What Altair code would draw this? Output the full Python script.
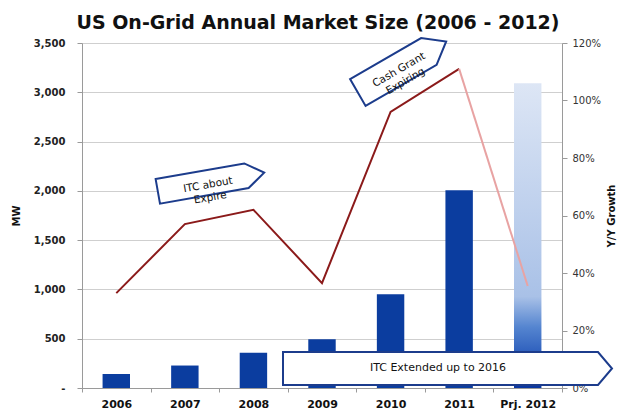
import altair as alt
import pandas as pd

# ---- data ----
years = ["2006", "2007", "2008", "2009", "2010", "2011", "Prj. 2012"]
mw = [142, 228, 358, 495, 952, 2005, 3092]
growth = [0.33, 0.57, 0.62, 0.365, 0.96, 1.11, 0.355]

title_text = "US On-Grid Annual Market Size (2006 - 2012)"
note_itc = "ITC about\nExpire"
note_cash = "Cash Grant\nExpiring"
note_ext = "ITC Extended up to 2016"

FONT = "DejaVu Sans"

bars_df = pd.DataFrame({"year": years[:-1], "mw": mw[:-1]})
proj_df = pd.DataFrame({"year": years[-1:], "mw": mw[-1:]})

line_rows = []
for i in range(6):
    line_rows.append({"year": years[i], "growth": growth[i], "seg": "actual", "idx": i})
for i in range(5, 7):
    line_rows.append({"year": years[i], "growth": growth[i], "seg": "proj", "idx": i})
line_df = pd.DataFrame(line_rows)

one = pd.DataFrame({"k": [0]})

X = alt.X(
    "year:N",
    scale=alt.Scale(domain=years, paddingInner=0, paddingOuter=0),
    axis=alt.Axis(
        title=None, tickBand="extent", labelAngle=0, labelFont=FONT,
        labelFontWeight="bold", labelFontSize=11, labelColor="#111",
        labelPadding=6, tickSize=4, domainColor="#9a9a9a", tickColor="#9a9a9a",
    ),
)

YL = alt.Y(
    "mw:Q", scale=alt.Scale(domain=[0, 3500]),
    axis=alt.Axis(
        orient="left", values=list(range(0, 3501, 500)),
        labelExpr="datum.value == 0 ? '-' : format(datum.value, ',')",
        title="MW", titleFont=FONT, titleFontSize=10, titleFontWeight="bold",
        titleColor="#111", titlePadding=12,
        labelFont=FONT, labelFontSize=10, labelFontWeight="bold", labelColor="#222",
        labelPadding=12, tickSize=5, tickColor="#9a9a9a", domainColor="#9a9a9a",
        gridColor="#cfcfcf", grid=True,
    ),
)

bars = alt.Chart(bars_df).mark_bar(
    color="#0b3d9f", width=alt.RelativeBandSize(0.4)
).encode(x=X, y=YL)

grad = alt.Gradient(
    gradient="linear",
    stops=[
        alt.GradientStop(offset=0, color="#0a36a0"),
        alt.GradientStop(offset=0.08, color="#1d4fb5"),
        alt.GradientStop(offset=0.2, color="#5585d0"),
        alt.GradientStop(offset=0.3, color="#a9c1e7"),
        alt.GradientStop(offset=1, color="#dde6f5"),
    ],
    x1=0, x2=0, y1=1, y2=0,
)

proj_bar = alt.Chart(proj_df).mark_bar(
    color=grad, width=alt.RelativeBandSize(0.4)
).encode(x=X, y=YL)

bar_layer = alt.layer(bars, proj_bar)

line = alt.Chart(line_df).mark_line(strokeWidth=2).encode(
    x=X,
    y=alt.Y(
        "growth:Q", scale=alt.Scale(domain=[0, 1.2]),
        axis=alt.Axis(
            orient="right", format="%", values=[0, 0.2, 0.4, 0.6, 0.8, 1.0, 1.2],
            grid=False, title="Y/Y Growth", titleAngle=270, titleFont=FONT,
            titleFontSize=10, titleFontWeight="bold", titleColor="#111", titlePadding=16,
            labelFont=FONT, labelFontSize=10, labelColor="#333", labelPadding=5,
            tickSize=5, tickColor="#9a9a9a", domainColor="#9a9a9a",
        ),
    ),
    color=alt.Color("seg:N", scale=alt.Scale(domain=["actual", "proj"], range=["#8b1a1a", "#e8a3a3"]), legend=None),
    detail="seg:N",
    order="idx:Q",
)


def arrow_path(body, tip, h):
    x0 = -(body + tip) / 2
    x1 = x0 + body
    x2 = (body + tip) / 2
    hh = h / 2
    return f"M{x0},{-hh}L{x1},{-hh}L{x2},0L{x1},{hh}L{x0},{hh}Z"


def callout(px, py, body, tip, h, angle):
    return alt.Chart(one).mark_point(
        shape=arrow_path(body, tip, h), size=4, filled=True, fill="white",
        stroke="#1c3c8c", strokeWidth=2, opacity=1, fillOpacity=1, strokeOpacity=1,
        angle=angle,
    ).encode(x=alt.value(px), y=alt.value(py))


def note(px, py, txt, angle, size=10.5):
    return alt.Chart(one).mark_text(
        text=txt, lineBreak="\n", font=FONT, fontSize=size, color="#111",
        angle=angle, align="center", baseline="middle", lineHeight=13,
    ).encode(x=alt.value(px), y=alt.value(py))


notes = alt.layer(
    callout(129, 139, 90, 18, 25, 350),
    note(126, 142, note_itc, 350),
    callout(320, 24, 82, 20, 31, 330),
    note(317, 27, note_cash, 330),
    callout(365.5, 325.5, 315, 14, 33, 0),
    note(356, 325, note_ext, 0, 11),
)

chart = alt.layer(bar_layer, line, notes).resolve_scale(y="independent").properties(
    width=480, height=345,
    title=alt.Title(title_text, font=FONT, fontSize=19, fontWeight="bold", color="#111",
                    anchor="middle", dy=3, dx=-4),
    autosize=alt.AutoSizeParams(type="none"),
    padding={"left": 82, "top": 43, "right": 63, "bottom": 24},
).configure_view(strokeWidth=0).configure(background="white")

chart.save("out.html", embed_options={"renderer": "svg", "actions": False})
